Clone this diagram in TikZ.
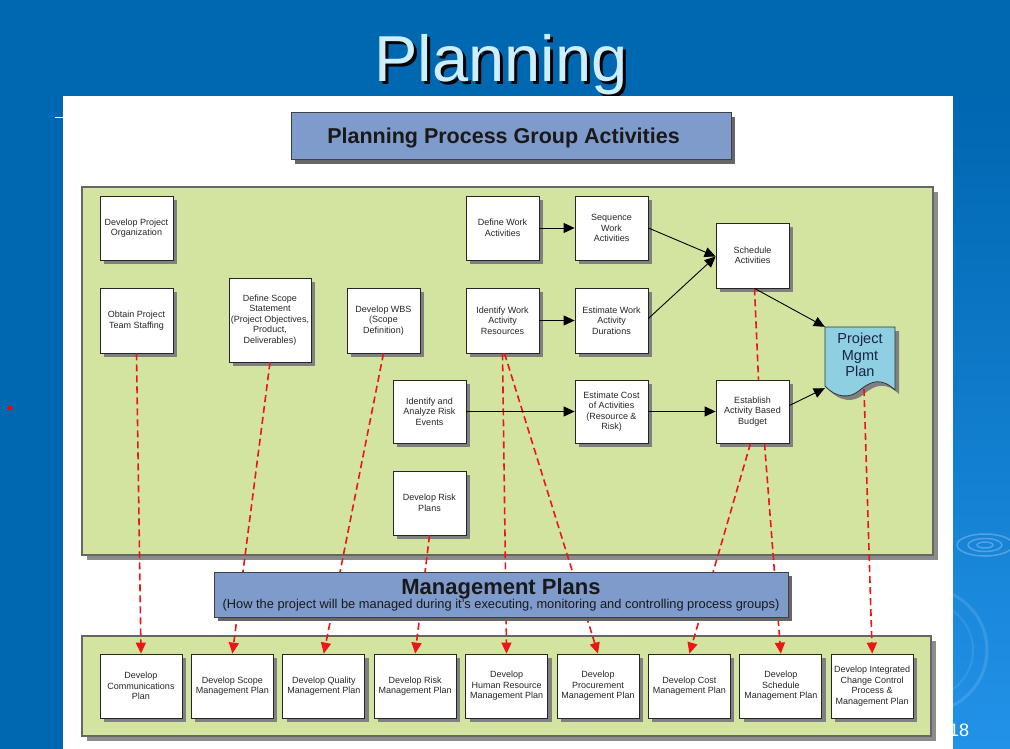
\documentclass[tikz,border=0pt]{standalone}
\usepackage{fontspec}
\setmainfont{Liberation Sans}
\usetikzlibrary{arrows.meta,shadows,calc}
\definecolor{bgblue}{RGB}{0,103,177}
\definecolor{bglight}{RGB}{34,146,232}
\definecolor{titlecyan}{RGB}{205,238,255}
\definecolor{panelgreen}{RGB}{211,228,160}
\definecolor{hdrblue}{RGB}{126,155,204}
\definecolor{pmpblue}{RGB}{142,207,226}
\definecolor{pmptext}{RGB}{25,35,70}
\definecolor{depred}{RGB}{236,22,22}
\begin{document}
\begin{tikzpicture}[x=1pt,y=-1pt,
  shad/.style={general shadow={fill=black!50, shadow xshift=4pt, shadow yshift=-4pt}},
  actbox/.style={draw=black!85, line width=0.8pt, fill=white, shad, minimum width=73pt, minimum height=64pt, inner sep=1pt, align=center, font=\fontsize{9}{10.5}\selectfont, text=black!85},
  planbox/.style={actbox, minimum width=82pt},
  panel/.style={draw=black!60, line width=1.2pt, fill=panelgreen, general shadow={fill=black!45, shadow xshift=5pt, shadow yshift=-5pt}, inner sep=0pt},
  hdrbox/.style={draw=black!75, line width=1pt, fill=hdrblue, general shadow={fill=black!60, shadow xshift=4pt, shadow yshift=-4pt}, inner sep=0pt},
  flow/.style={-{Triangle[length=11pt,width=10pt]}, line width=0.9pt, black},
  dep/.style={-{Triangle[length=11pt,width=10pt]}, line width=1.6pt, depred, dash pattern=on 7pt off 4pt},
  depline/.style={line width=1.6pt, depred, dash pattern=on 7pt off 4pt},
  ripple/.style={draw=white, opacity=0.25, line width=1.5pt}
]
\useasboundingbox (0,0) rectangle (1010,749);
% slide background
\fill[bgblue] (0,0) rectangle (1010,749);
\shade[top color=bgblue, bottom color=bglight] (953,100) rectangle (1010,749);
\draw[ripple] (985,545) ellipse (28pt and 11pt);
\draw[ripple] (985,545) ellipse (17pt and 6.5pt);
\draw[ripple] (985,545) ellipse (8pt and 3pt);
\begin{scope}
  \clip (953,560) rectangle (1010,749);
  \draw[white, opacity=0.12, line width=3pt] (925,650) circle (62pt);
  \draw[white, opacity=0.09, line width=2pt] (925,650) circle (48pt);
\end{scope}
\node[anchor=base west, text=white, font=\fontsize{18}{18}\selectfont, inner sep=0pt] (pgnum) at (949,736) {18};
\fill[red] (10,408) circle (2.5pt);
% title with hard shadow
\node[anchor=base, font=\fontsize{65}{65}\selectfont, text=titlecyan, inner sep=0pt] (title) at (501,82)
  {\rlap{\hspace{3pt}\raisebox{-3pt}{\color{black}Planning}}Planning};
% white sheet
\fill[white] (63,96) rectangle (953,749);
\draw[white, line width=1pt] (55,118) -- (63,118);
% header
\node[hdrbox, minimum width=440pt, minimum height=47pt] (hdr) at (511,136.5) {};
\node[font=\fontsize{21.5}{22}\selectfont\bfseries, text=black!90] (hdrtext) at (503.5,137.5) {Planning Process Group Activities};
% panels
\node[panel, minimum width=851pt, minimum height=368pt] (toppanel) at (507.5,371) {};
\node[panel, minimum width=849pt, minimum height=100pt] (botpanel) at (506.5,686) {};
% activity boxes
\node[actbox] (porg) at (136.5,228) {Develop Project\\Organization};
\node[actbox, minimum height=65pt] (pstaff) at (136.5,320.5) {Obtain Project\\Team Staffing};
\node[actbox, minimum width=82pt, minimum height=84pt] (scope) at (270,320) {Define Scope\\Statement\\(Project Objectives,\\Product,\\Deliverables)};
\node[actbox, minimum height=65pt] (wbs) at (383.5,320.5) {Develop WBS\\(Scope\\Definition)};
\node[actbox] (defw) at (502.5,228) {Define Work\\Activities};
\node[actbox] (seq) at (611.5,228) {Sequence\\Work\\Activities};
\node[actbox, minimum height=65pt] (sched) at (752.5,255.5) {Schedule\\Activities};
\node[actbox, minimum height=65pt] (idres) at (502.5,320.5) {Identify Work\\Activity\\Resources};
\node[actbox, minimum height=65pt] (estdur) at (611.5,320.5) {Estimate Work\\Activity\\Durations};
\node[actbox, minimum height=63pt] (risk) at (429.5,411.5) {Identify and\\Analyze Risk\\Events};
\node[actbox, minimum height=63pt] (estcost) at (611.5,411.5) {Estimate Cost\\of Activities\\(Resource \&\\Risk)};
\node[actbox, minimum height=63pt] (budget) at (752.5,411.5) {Establish\\Activity Based\\Budget};
\node[actbox] (riskpl) at (429.5,503) {Develop Risk\\Plans};
% project management plan document
\fill[black!50, xshift=4pt, yshift=-4pt] (825,327) -- (895,327) -- (895,390) .. controls (882,378) and (872,380) .. (860,390) .. controls (850,399) and (836,398) .. (825,386) -- cycle;
\path[draw=black!80, line width=0.8pt, fill=pmpblue] (825,327) -- (895,327) -- (895,390) .. controls (882,378) and (872,380) .. (860,390) .. controls (850,399) and (836,398) .. (825,386) -- cycle;
\node[minimum width=70pt, minimum height=68pt, inner sep=0pt,
  label={[font=\fontsize{14.5}{16.5}\selectfont, text=pmptext, align=center, yshift=6pt]center:Project\\Mgmt\\Plan}] (pmp) at (860,361) {};
% plan boxes
\node[planbox] (b1) at (141,686) {Develop\\Communications\\Plan};
\node[planbox] (b2) at (232.4,686) {Develop Scope\\Management Plan};
\node[planbox] (b3) at (323.8,686) {Develop Quality\\Management Plan};
\node[planbox] (b4) at (415.2,686) {Develop Risk\\Management Plan};
\node[planbox] (b5) at (506.6,686) {Develop\\Human Resource\\Management Plan};
\node[planbox] (b6) at (598,686) {Develop\\Procurement\\Management Plan};
\node[planbox] (b7) at (689.4,686) {Develop Cost\\Management Plan};
\node[planbox] (b8) at (780.8,686) {Develop\\Schedule\\Management Plan};
\node[planbox] (b9) at (872.2,686) {Develop Integrated\\Change Control\\Process \&\\Management Plan};
% dependency (dashed) connectors
\draw[dep] (pstaff.south) -- (b1.north);
\draw[dep] (scope.south) -- (b2.north);
\draw[dep] (wbs.south) -- (b3.north);
\draw[dep] (riskpl.south) -- (b4.north);
\draw[dep] (idres.south) -- (b5.north);
\draw[dep] ([xshift=2pt]idres.south) -- (b6.north);
\draw[dep] ([xshift=-2pt]budget.south) -- (b7.north);
\draw[dep] ([xshift=12pt]budget.south) -- (b8.north);
\draw[dep] ([xshift=4pt,yshift=6pt]pmp.south) -- (b9.north);
\draw[depline] ([xshift=2pt]sched.south) -- ([xshift=6pt]budget.north);
% management plans banner
\node[hdrbox, minimum width=574pt, minimum height=45pt, align=center, font=\fontsize{12.85}{14}\selectfont, text=black!90] (mgmt) at (501,594.5)
  {{\fontsize{22}{22}\selectfont\bfseries Management Plans}\\(How the project will be managed during it’s executing, monitoring and controlling process groups)};
% flow arrows
\draw[flow] (defw.east) -- (seq.west);
\draw[flow] (idres.east) -- (estdur.west);
\draw[flow] (seq.east) -- ([yshift=-1pt]sched.west);
\draw[flow] ([yshift=2pt]estdur.east) -- ([yshift=-1pt]sched.west);
\draw[flow] ([xshift=2pt]sched.south) -- (pmp.north west);
\draw[flow] (risk.east) -- (estcost.west);
\draw[flow] (estcost.east) -- (budget.west);
\draw[flow] ([yshift=6pt]budget.east) -- ([yshift=7pt]pmp.south west);
\end{tikzpicture}
\end{document}
